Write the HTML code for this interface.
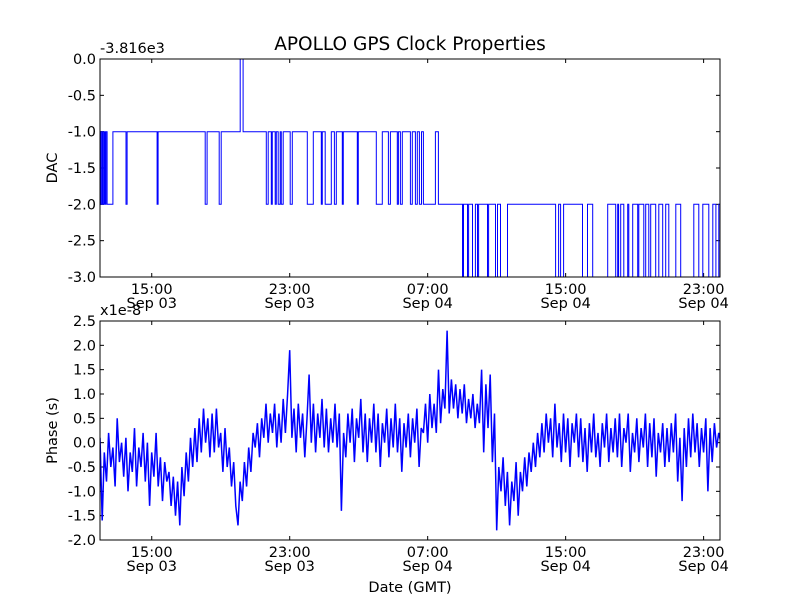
<!DOCTYPE html>
<html><head><meta charset="utf-8"><style>
html,body{margin:0;padding:0;background:#fff;}
svg{display:block;font-family:"DejaVu Sans","Liberation Sans",sans-serif;}
</style></head><body>
<svg id="chart" width="800" height="600" viewBox="0 0 800 600" xmlns="http://www.w3.org/2000/svg">
<rect width="800" height="600" fill="#fff"/>
<text x="410" y="50" font-size="18.5" text-anchor="middle">APOLLO GPS Clock Properties</text>
<g id="top"></g>
<g id="bot"></g>
</svg>
<script>
// hours since 12:00 Sep 03 (GMT)
const xTickHours = [3, 11, 19, 27, 35];
const xTickTimes = ["15:00", "23:00", "07:00", "15:00", "23:00"];
const xTickDates = ["Sep 03", "Sep 03", "Sep 04", "Sep 04", "Sep 04"];
const dacTicks = [0.0, -0.5, -1.0, -1.5, -2.0, -2.5, -3.0];
const phaseTicks = [2.5, 2.0, 1.5, 1.0, 0.5, 0.0, -0.5, -1.0, -1.5, -2.0];
// DAC step series: change times (h) and values (offset from -3.816e3)
const dacTimes = [0,.06,.12,.17,.23,.29,.35,.41,.75,1.51,1.57,3.31,3.37,6.10,6.21,6.91,7.03,8.13,8.30,9.64,9.75,9.93,9.99,10.16,10.22,10.33,10.45,10.51,10.62,11.03,11.15,12.02,12.37,12.83,12.89,13.06,13.41,13.59,13.70,14.05,14.11,14.92,14.98,16.02,16.37,16.72,16.84,17.24,17.30,17.42,17.53,18.00,18.11,18.29,18.40,18.52,18.64,18.75,19.45,19.62,21.02,21.08,21.31,21.37,21.60,21.77,21.89,21.95,22.47,22.53,22.93,23.05,23.22,23.63,26.42,26.59,26.71,26.88,27.98,28.27,28.57,29.44,29.90,30.02,30.07,30.19,30.37,30.60,30.66,30.89,31.18,31.24,31.53,31.64,31.82,31.93,32.22,32.40,32.63,32.80,32.98,33.39,33.67,34.43,34.72,34.95,35.30,35.53,35.71,35.88];
const dacValues = [-1,-2,-1,-2,-1,-2,-1,-2,-1,-2,-1,-2,-1,-2,-1,-2,-1,0,-1,-2,-1,-2,-1,-2,-1,-2,-1,-2,-1,-2,-1,-2,-1,-2,-1,-2,-1,-2,-1,-2,-1,-2,-1,-2,-1,-2,-1,-2,-1,-2,-1,-2,-1,-2,-1,-2,-1,-2,-1,-2,-3,-2,-3,-2,-3,-2,-3,-2,-3,-2,-3,-2,-3,-2,-3,-2,-3,-2,-3,-2,-3,-2,-3,-2,-3,-2,-3,-2,-3,-2,-3,-2,-3,-2,-3,-2,-3,-2,-3,-2,-3,-2,-3,-2,-3,-2,-3,-2,-3,-2];
// Phase (units of 1e-8 s), sampled every 0.125 h
const phaseStep = 0.125;
const phaseValues = [
0.1,-1.6,-0.2,-0.8,0.2,-0.5,-0.1,-0.9,
0.5,-0.4,0.0,-0.7,0.1,-1.0,-0.2,-0.6,
0.3,-0.9,-0.1,-0.5,0.2,-0.8,0.0,-1.3,
-0.2,-0.7,0.2,-0.9,-0.3,-1.2,-0.4,-0.8,
-0.6,-1.3,-0.7,-1.5,-0.8,-1.7,-0.5,-1.1,
-0.2,-0.8,0.1,-0.5,0.3,-0.4,0.5,-0.2,
0.7,0.0,0.5,-0.3,0.6,-0.2,0.7,-0.1,
0.2,-0.6,0.3,-0.5,-0.1,-0.9,-0.4,-1.3,
-1.7,-0.8,-1.2,-0.4,-0.9,-0.1,-0.6,0.2,
-0.1,0.4,-0.3,0.5,0.1,0.8,0.0,0.6,
0.2,0.8,-0.1,0.6,0.0,0.9,0.2,1.0,
1.9,0.1,0.7,-0.2,0.8,0.1,0.6,-0.3,
0.5,1.4,0.0,0.8,-0.2,0.6,0.1,0.9,
-0.1,0.7,-0.2,0.5,0.0,0.8,-0.1,0.6,
-1.4,0.2,-0.3,0.6,0.0,0.7,-0.4,0.5,
0.1,0.9,-0.2,0.6,-0.4,0.5,0.0,0.8,
-0.2,0.6,-0.5,0.4,0.0,0.7,-0.3,0.5,
-0.1,0.8,-0.2,0.5,-0.6,0.4,-0.1,0.6,
-0.3,0.5,0.0,0.7,-0.5,0.3,0.2,0.8,
0.0,1.0,0.3,0.8,0.2,1.5,0.4,1.1,
0.7,2.3,0.6,1.3,0.7,1.2,0.5,1.1,
0.6,1.2,0.4,0.9,0.5,1.0,0.3,0.8,
0.4,1.5,-0.2,1.2,0.3,1.4,-0.4,0.6,
-1.8,-0.5,-1.0,-0.3,-1.3,-0.6,-1.7,-0.8,
-1.2,-0.4,-1.5,-0.6,-1.0,-0.3,-0.9,-0.2,
-0.6,0.0,-0.5,0.2,-0.3,0.4,-0.2,0.6,
0.0,0.5,-0.3,0.8,-0.1,0.4,-0.4,0.6,
-0.2,0.5,-0.5,0.4,0.0,0.6,-0.3,0.5,
-0.4,0.3,-0.6,0.4,-0.2,0.6,-0.3,0.2,
-0.5,0.4,-0.1,0.6,-0.4,0.3,-0.2,0.5,
-0.3,0.6,-0.5,0.3,0.0,0.6,-0.6,0.2,
-0.2,0.5,-0.4,0.3,-0.1,0.6,-0.5,0.4,
-0.3,0.5,-0.7,0.2,-0.2,0.4,-0.5,0.3,
-0.4,0.4,-0.2,0.6,-0.8,0.1,-1.2,0.3,
-0.5,0.5,-0.3,0.6,-0.2,0.4,-0.5,0.3,
-0.2,0.5,-1.0,0.3,-0.4,0.4,-0.1,0.2,
0.0];

const NS = "http://www.w3.org/2000/svg";
const X0 = 100, X1 = 720, H0 = 0, H1 = 35.95;
const FS = 14.5;
function xs(h){ return X0 + (h - H0) / (H1 - H0) * (X1 - X0); }
function mk(tag, attrs, parent){ const e = document.createElementNS(NS, tag); for (const k in attrs) e.setAttribute(k, attrs[k]); parent.appendChild(e); return e; }

function axes(g, top, bottom, vmax, vmin, ticks, yLabel, offsetText, name){
  const ys = v => top + (vmax - v) / (vmax - vmin) * (bottom - top);
  ticks.forEach(t => {
    const y = ys(t);
    const tl = mk("line", {x1: X0, x2: X0 + 4, y1: y, y2: y, stroke: "#000"}, g);
    
    
    mk("line", {x1: X1, x2: X1 - 4, y1: y, y2: y, stroke: "#000"}, g);
    const tx = mk("text", {x: X0 - 4, y: y + 5, "font-size": FS, "text-anchor": "end"}, g);
    tx.textContent = t.toFixed(1);
    
    
  });
  xTickHours.forEach((h, i) => {
    const x = xs(h);
    mk("line", {x1: x, x2: x, y1: bottom, y2: bottom - 4, stroke: "#000"}, g);
    mk("line", {x1: x, x2: x, y1: top, y2: top + 4, stroke: "#000"}, g);
    const t1 = mk("text", {x: x, y: bottom + 17, "font-size": FS, "text-anchor": "middle"}, g);
    t1.textContent = xTickTimes[i];
    
    
    const t2 = mk("text", {x: x, y: bottom + 31, "font-size": FS, "text-anchor": "middle"}, g);
    t2.textContent = xTickDates[i];
    
    
  });
  const yl = mk("text", {x: 57, y: (top + bottom) / 2, "font-size": FS, "text-anchor": "middle", transform: "rotate(-90 57 " + (top + bottom) / 2 + ")"}, g);
  yl.textContent = yLabel;
  
  
  const ot = mk("text", {x: X0, y: top - 6, "font-size": FS}, g);
  ot.textContent = offsetText;
  
  
  return ys;
}
function frame(g, top, bottom, name){
  const f = mk("rect", {x: X0, y: top, width: X1 - X0, height: bottom - top, fill: "none", stroke: "#000", "stroke-width": 1}, g);
  
  
}

// top panel
const gt = document.getElementById("top");
const yT = axes(gt, 59, 277, 0, -3, dacTicks, "DAC", "-3.816e3", "dac");
let d = "";
for (let i = 0; i < dacTimes.length; i++){
  const x = xs(dacTimes[i]), y = yT(dacValues[i]);
  const xn = xs(i + 1 < dacTimes.length ? dacTimes[i + 1] : H1);
  d += (i === 0 ? "M" : "L") + x.toFixed(1) + "," + y.toFixed(1) + "L" + xn.toFixed(1) + "," + y.toFixed(1);
}
const dl = mk("path", {d: d, fill: "none", stroke: "#00f", "stroke-width": 1}, gt);


frame(gt, 59, 277, "dac");

// bottom panel
const gb = document.getElementById("bot");
const yB = axes(gb, 321, 540, 2.5, -2.0, phaseTicks, "Phase (s)", "x1e-8", "phase");
const clip = mk("clipPath", {id: "pc"}, gb);
mk("rect", {x: X0, y: 321, width: X1 - X0, height: 219}, clip);
let p = "";
phaseValues.forEach((v, i) => {
  p += (i === 0 ? "M" : "L") + xs(i * phaseStep).toFixed(1) + "," + yB(v).toFixed(1);
});
const pl = mk("path", {d: p, fill: "none", stroke: "#00f", "stroke-width": 1.5, "clip-path": "url(#pc)"}, gb);


frame(gb, 321, 540, "phase");
const xl = mk("text", {x: 410, y: 592, "font-size": FS, "text-anchor": "middle"}, gb);
xl.textContent = "Date (GMT)";


</script>
</body></html>
